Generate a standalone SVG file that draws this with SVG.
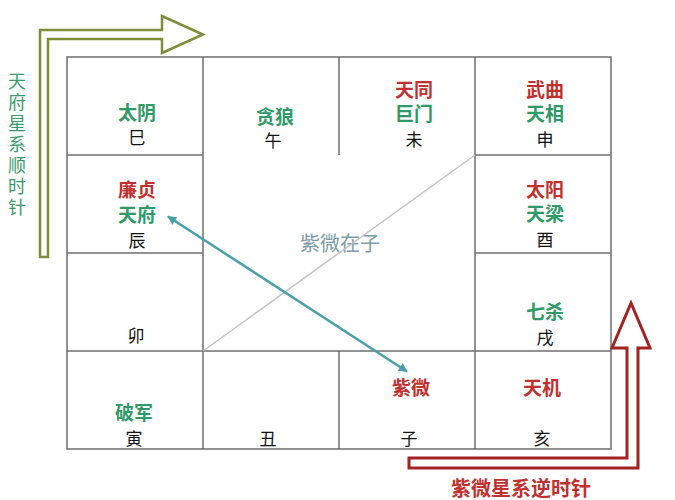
<svg xmlns="http://www.w3.org/2000/svg" width="675" height="500" viewBox="0 0 675 500">
<style>
.grid{stroke:#6e6e6e;stroke-width:1.5;fill:none}
text{font-family:"Liberation Sans","Noto Sans CJK SC",sans-serif}
.cell{text-anchor:middle}
.star{font-size:19px;font-weight:bold}
.r{fill:#c0302f}
.g{fill:#2f9a68}
.br{font-size:17px;font-weight:normal;fill:#111}
</style>
<defs>
<marker id="ah" viewBox="0 0 10 10" refX="9" refY="5" markerWidth="4" markerHeight="3.6" orient="auto-start-reverse" markerUnits="strokeWidth">
<path d="M0,0 L10,5 L0,10 z" fill="#4a9fab"/>
</marker>
</defs>
<rect width="675" height="500" fill="#ffffff"/>
<g id="grid">
<rect class="grid" x="67" y="57" width="544" height="392"/>
<line class="grid" x1="203" y1="57" x2="203" y2="449"/>
<line class="grid" x1="475" y1="57" x2="475" y2="449"/>
<line class="grid" x1="339" y1="57" x2="339" y2="155"/>
<line class="grid" x1="339" y1="351" x2="339" y2="449"/>
<line class="grid" x1="67" y1="155" x2="203" y2="155"/>
<line class="grid" x1="475" y1="155" x2="611" y2="155"/>
<line class="grid" x1="67" y1="253" x2="203" y2="253"/>
<line class="grid" x1="475" y1="253" x2="611" y2="253"/>
<line class="grid" x1="67" y1="351" x2="611" y2="351"/>
</g>
<g id="cell-si"><text class="cell"><tspan class="star g" x="137" y="120">太阴</tspan><tspan class="br" x="137" y="143.5">巳</tspan></text></g>
<g id="cell-wu"><text class="cell"><tspan class="star g" x="275" y="124">贪狼</tspan><tspan class="br" x="273" y="146.5">午</tspan></text></g>
<g id="cell-wei"><text class="cell"><tspan class="star r" x="414" y="97">天同</tspan><tspan class="star g" x="414" y="121">巨门</tspan><tspan class="br" x="414" y="145.5">未</tspan></text></g>
<g id="cell-shen"><text class="cell"><tspan class="star r" x="545" y="97">武曲</tspan><tspan class="star g" x="545" y="121">天相</tspan><tspan class="br" x="545" y="145.5">申</tspan></text></g>
<g id="cell-chen"><text class="cell"><tspan class="star r" x="137" y="197">廉贞</tspan><tspan class="star g" x="137" y="222">天府</tspan><tspan class="br" x="137" y="246.5">辰</tspan></text></g>
<g id="cell-you"><text class="cell"><tspan class="star r" x="545" y="197">太阳</tspan><tspan class="star g" x="545" y="221">天梁</tspan><tspan class="br" x="545" y="245.5">酉</tspan></text></g>
<g id="cell-mao"><text class="cell br" x="136" y="341.5">卯</text></g>
<g id="cell-xu"><text class="cell"><tspan class="star g" x="545" y="319">七杀</tspan><tspan class="br" x="545" y="343.5">戌</tspan></text></g>
<g id="cell-yin"><text class="cell"><tspan class="star g" x="134" y="420">破军</tspan><tspan class="br" x="134" y="444.5">寅</tspan></text></g>
<g id="cell-chou"><text class="cell br" x="268" y="444.5">丑</text></g>
<g id="cell-zi"><text class="cell"><tspan class="star r" x="411" y="395">紫微</tspan><tspan class="br" x="409" y="444.5">子</tspan></text></g>
<g id="cell-hai"><text class="cell"><tspan class="star r" x="542" y="395">天机</tspan><tspan class="br" x="542" y="444.5">亥</tspan></text></g>
<g id="center"><text x="340" y="250.5" font-size="20" fill="#7b9ca6" text-anchor="middle">紫微在子</text></g>
<g id="connectors">
<line x1="203" y1="351" x2="475" y2="155" stroke="#c4c4c4" stroke-width="1.5"/>
<line x1="168" y1="216.5" x2="407" y2="371.5" stroke="#4a9fab" stroke-width="2.5" marker-start="url(#ah)" marker-end="url(#ah)"/>
</g>
<g id="cw-arrow">
<path d="M40,257 L40,30 L162,30 L162,16 L203,34.5 L162,53 L162,39 L48,39 L48,257 Z" fill="#ffffff" stroke="#7f8c3a" stroke-width="2.5" stroke-linejoin="miter"/>
<text x="17 17 17 17 17 17 17" y="88 109 130 151 172 193 214" font-size="18" fill="#3a9a6a" text-anchor="middle">天府星系顺时针</text>
</g>
<g id="ccw-arrow">
<path d="M409,458 L627,458 L627,348 L612,348 L631,303 L650,348 L638,348 L638,468 L409,468 Z" fill="#ffffff" stroke="#a32222" stroke-width="3" stroke-linejoin="miter"/>
<text x="521" y="495.5" font-size="20" font-weight="bold" fill="#c0302f" text-anchor="middle">紫微星系逆时针</text>
</g>
</svg>
